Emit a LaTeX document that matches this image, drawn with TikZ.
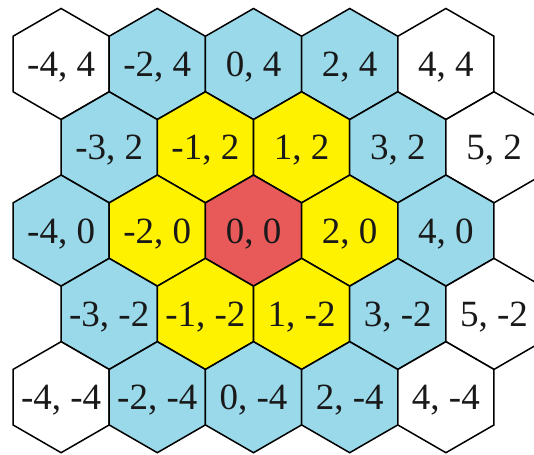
\documentclass[tikz,border=0pt]{standalone}
\usepackage{fontspec}
\setmainfont{Liberation Serif}
\usetikzlibrary{shapes.geometric}
\definecolor{hexblue}{HTML}{99D9EA}
\definecolor{hexyellow}{HTML}{FFF200}
\definecolor{hexred}{HTML}{E85A5A}
\tikzset{
  hexcell/.style={regular polygon, regular polygon sides=6, shape border rotate=30,
    minimum size=111pt, inner sep=0pt, outer sep=0pt, draw=black, line width=1.5pt},
  lbl/.style={font=\fontsize{37}{37}\selectfont, inner sep=0pt, anchor=base, text=black!90}
}
\newcommand{\hexat}[4]{%
  \node[hexcell, fill=#3] (h#4) at ({(48.1*(#1+4)+61.1)*1pt}, {(390-(4-(#2))*41.65)*1pt}) {};
  \node[lbl] (t#4) at ([yshift=-12.5pt]h#4.center) {#1, #2};
}
\begin{document}
\begin{tikzpicture}
\clip (0,0) rectangle (534pt,454pt);
\fill[white] (0,0) rectangle (534pt,454pt);
\hexat{-4}{4}{white}{a1}
\hexat{-2}{4}{hexblue}{a2}
\hexat{0}{4}{hexblue}{a3}
\hexat{2}{4}{hexblue}{a4}
\hexat{4}{4}{white}{a5}
\hexat{-3}{2}{hexblue}{b1}
\hexat{-1}{2}{hexyellow}{b2}
\hexat{1}{2}{hexyellow}{b3}
\hexat{3}{2}{hexblue}{b4}
\hexat{5}{2}{white}{b5}
\hexat{-4}{0}{hexblue}{c1}
\hexat{-2}{0}{hexyellow}{c2}
\hexat{0}{0}{hexred}{c3}
\hexat{2}{0}{hexyellow}{c4}
\hexat{4}{0}{hexblue}{c5}
\hexat{-3}{-2}{hexblue}{d1}
\hexat{-1}{-2}{hexyellow}{d2}
\hexat{1}{-2}{hexyellow}{d3}
\hexat{3}{-2}{hexblue}{d4}
\hexat{5}{-2}{white}{d5}
\hexat{-4}{-4}{white}{e1}
\hexat{-2}{-4}{hexblue}{e2}
\hexat{0}{-4}{hexblue}{e3}
\hexat{2}{-4}{hexblue}{e4}
\hexat{4}{-4}{white}{e5}
\end{tikzpicture}
\end{document}
